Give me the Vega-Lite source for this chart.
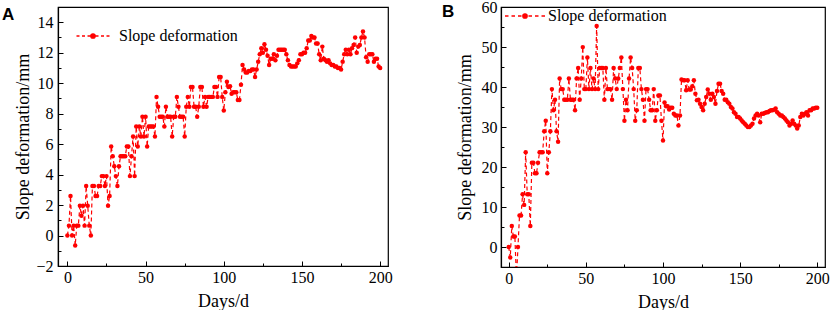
{
  "$schema": "https://vega.github.io/schema/vega-lite/v6.json",
  "padding": {"left": 1, "top": -2, "right": 0, "bottom": 0},
  "spacing": 48,
  "datasets": {
    "a": [{"d":0,"v":0},{"d":1,"v":0.65},{"d":2,"v":2.6},{"d":3,"v":0},{"d":4,"v":0.65},{"d":5,"v":-0.65},{"d":6,"v":0.65},{"d":7,"v":0.65},{"d":8,"v":1.95},{"d":9,"v":1.3},
      {"d":10,"v":1.95},{"d":11,"v":0.65},{"d":12,"v":3.25},{"d":13,"v":1.95},{"d":14,"v":0.65},{"d":15,"v":0},{"d":16,"v":3.25},{"d":17,"v":3.25},{"d":18,"v":2.6},{"d":19,"v":2.6},
      {"d":20,"v":3.25},{"d":21,"v":3.25},{"d":22,"v":3.9},{"d":23,"v":3.9},{"d":24,"v":3.25},{"d":25,"v":3.9},{"d":26,"v":1.95},{"d":27,"v":2.6},{"d":28,"v":5.85},{"d":29,"v":5.2},
      {"d":30,"v":4.55},{"d":31,"v":3.9},{"d":32,"v":3.25},{"d":33,"v":4.55},{"d":34,"v":5.2},{"d":35,"v":5.2},{"d":36,"v":5.2},{"d":37,"v":5.2},{"d":38,"v":5.85},{"d":39,"v":5.85},
      {"d":40,"v":3.9},{"d":41,"v":5.2},{"d":42,"v":6.5},{"d":43,"v":3.9},{"d":44,"v":7.15},{"d":45,"v":5.85},{"d":46,"v":7.15},{"d":47,"v":6.5},{"d":48,"v":7.8},{"d":49,"v":6.5},
      {"d":50,"v":7.8},{"d":51,"v":5.85},{"d":52,"v":7.15},{"d":53,"v":7.15},{"d":54,"v":7.15},{"d":55,"v":7.15},{"d":56,"v":6.5},{"d":57,"v":9.1},{"d":58,"v":8.45},{"d":59,"v":7.8},
      {"d":60,"v":7.8},{"d":61,"v":7.8},{"d":62,"v":7.15},{"d":63,"v":8.45},{"d":64,"v":7.8},{"d":65,"v":7.8},{"d":66,"v":7.8},{"d":67,"v":6.5},{"d":68,"v":7.8},{"d":69,"v":7.8},
      {"d":70,"v":9.1},{"d":71,"v":8.45},{"d":72,"v":7.8},{"d":73,"v":7.8},{"d":74,"v":7.8},{"d":75,"v":6.5},{"d":76,"v":8.45},{"d":77,"v":9.1},{"d":78,"v":8.45},{"d":79,"v":9.75},
      {"d":80,"v":9.75},{"d":81,"v":8.45},{"d":82,"v":8.45},{"d":83,"v":7.8},{"d":84,"v":8.45},{"d":85,"v":9.75},{"d":86,"v":9.75},{"d":87,"v":8.45},{"d":88,"v":9.1},{"d":89,"v":8.45},
      {"d":90,"v":9.1},{"d":91,"v":9.1},{"d":92,"v":9.1},{"d":93,"v":9.1},{"d":94,"v":9.75},{"d":95,"v":9.75},{"d":96,"v":9.1},{"d":97,"v":10.4},{"d":98,"v":10.4},{"d":99,"v":9.1},
      {"d":100,"v":8.2},{"d":101,"v":9.4},{"d":102,"v":10.1},{"d":103,"v":9.75},{"d":104,"v":9.8},{"d":105,"v":9.3},{"d":106,"v":9.4},{"d":107,"v":9.4},{"d":108,"v":9.4},{"d":109,"v":8.9},
      {"d":110,"v":8.9},{"d":111,"v":9.9},{"d":112,"v":11.2},{"d":113,"v":10.9},{"d":114,"v":10.7},{"d":115,"v":10.7},{"d":116,"v":10.8},{"d":117,"v":10.8},{"d":118,"v":10.9},{"d":119,"v":10.9},
      {"d":120,"v":10.4},{"d":121,"v":10.9},{"d":122,"v":11.4},{"d":123,"v":11.9},{"d":124,"v":12.3},{"d":125,"v":12.0},{"d":126,"v":12.55},{"d":127,"v":12.2},{"d":128,"v":11.8},{"d":129,"v":11.2},
      {"d":130,"v":11.6},{"d":131,"v":11.6},{"d":132,"v":11.9},{"d":133,"v":11.5},{"d":134,"v":11.8},{"d":135,"v":12.2},{"d":136,"v":12.2},{"d":137,"v":12.2},{"d":138,"v":12.2},{"d":139,"v":12.2},
      {"d":140,"v":11.9},{"d":141,"v":11.5},{"d":142,"v":11.2},{"d":143,"v":11.1},{"d":144,"v":11.1},{"d":145,"v":11.1},{"d":146,"v":11.1},{"d":147,"v":11.3},{"d":148,"v":11.5},{"d":149,"v":11.9},
      {"d":150,"v":11.9},{"d":151,"v":12.0},{"d":152,"v":12.0},{"d":153,"v":12.3},{"d":154,"v":12.8},{"d":155,"v":12.8},{"d":156,"v":13.1},{"d":157,"v":13.0},{"d":158,"v":13.0},{"d":159,"v":12.6},
      {"d":160,"v":12.6},{"d":161,"v":11.9},{"d":162,"v":11.5},{"d":163,"v":12.4},{"d":164,"v":11.6},{"d":165,"v":11.5},{"d":166,"v":11.4},{"d":167,"v":11.5},{"d":168,"v":11.3},{"d":169,"v":11.2},
      {"d":170,"v":11.2},{"d":171,"v":11.1},{"d":172,"v":11.1},{"d":173,"v":11.0},{"d":174,"v":11.0},{"d":175,"v":10.9},{"d":176,"v":11.4},{"d":177,"v":11.9},{"d":178,"v":12.2},{"d":179,"v":11.9},
      {"d":180,"v":12.2},{"d":181,"v":11.9},{"d":182,"v":12.3},{"d":183,"v":12.5},{"d":184,"v":13.0},{"d":185,"v":12.0},{"d":186,"v":12.4},{"d":187,"v":12.5},{"d":188,"v":13.0},{"d":189,"v":13.4},
      {"d":190,"v":13.0},{"d":191,"v":11.7},{"d":192,"v":11.4},{"d":193,"v":11.9},{"d":194,"v":11.9},{"d":195,"v":11.9},{"d":196,"v":11.4},{"d":197,"v":11.6},{"d":198,"v":11.6},{"d":199,"v":11.1},
      {"d":200,"v":11.0}],
    "b": [{"d":0,"v":0},{"d":1,"v":-2.63},{"d":2,"v":5.26},{"d":3,"v":2.63},{"d":4,"v":2.63},{"d":5,"v":-7.9},{"d":6,"v":0},{"d":7,"v":7.9},{"d":8,"v":7.9},{"d":9,"v":13.16},
      {"d":10,"v":10.53},{"d":11,"v":23.68},{"d":12,"v":13.16},{"d":13,"v":13.16},{"d":14,"v":5.26},{"d":15,"v":21.05},{"d":16,"v":21.05},{"d":17,"v":18.42},{"d":18,"v":18.42},{"d":19,"v":21.05},
      {"d":20,"v":23.68},{"d":21,"v":23.68},{"d":22,"v":23.68},{"d":23,"v":28.95},{"d":24,"v":31.58},{"d":25,"v":18.42},{"d":26,"v":23.68},{"d":27,"v":28.95},{"d":28,"v":39.47},{"d":29,"v":34.21},
      {"d":30,"v":36.84},{"d":31,"v":28.95},{"d":32,"v":26.32},{"d":33,"v":42.1},{"d":34,"v":39.47},{"d":35,"v":39.47},{"d":36,"v":36.84},{"d":37,"v":36.84},{"d":38,"v":36.84},{"d":39,"v":42.1},
      {"d":40,"v":36.84},{"d":41,"v":36.84},{"d":42,"v":36.84},{"d":43,"v":34.21},{"d":44,"v":42.1},{"d":45,"v":44.74},{"d":46,"v":36.84},{"d":47,"v":42.1},{"d":48,"v":49.97},{"d":49,"v":39.47},
      {"d":50,"v":39.47},{"d":51,"v":47.37},{"d":52,"v":39.47},{"d":53,"v":44.74},{"d":54,"v":39.47},{"d":55,"v":42.1},{"d":56,"v":39.47},{"d":57,"v":55.26},{"d":58,"v":39.47},{"d":59,"v":44.74},
      {"d":60,"v":44.74},{"d":61,"v":44.74},{"d":62,"v":36.84},{"d":63,"v":44.74},{"d":64,"v":39.47},{"d":65,"v":39.47},{"d":66,"v":39.47},{"d":67,"v":36.84},{"d":68,"v":44.74},{"d":69,"v":42.1},
      {"d":70,"v":39.47},{"d":71,"v":42.1},{"d":72,"v":44.74},{"d":73,"v":47.37},{"d":74,"v":39.47},{"d":75,"v":31.58},{"d":76,"v":36.84},{"d":77,"v":34.21},{"d":78,"v":42.1},{"d":79,"v":47.37},
      {"d":80,"v":44.74},{"d":81,"v":39.47},{"d":82,"v":31.58},{"d":83,"v":34.21},{"d":84,"v":44.74},{"d":85,"v":44.74},{"d":86,"v":39.47},{"d":87,"v":36.84},{"d":88,"v":31.58},{"d":89,"v":39.47},
      {"d":90,"v":39.47},{"d":91,"v":36.84},{"d":92,"v":34.21},{"d":93,"v":34.21},{"d":94,"v":39.47},{"d":95,"v":31.58},{"d":96,"v":34.21},{"d":97,"v":37.9},{"d":98,"v":37.9},{"d":99,"v":31.58},
      {"d":100,"v":26.6},{"d":101,"v":36.1},{"d":102,"v":35.2},{"d":103,"v":35.2},{"d":104,"v":34.4},{"d":105,"v":34.8},{"d":106,"v":34.8},{"d":107,"v":33.3},{"d":108,"v":32.9},{"d":109,"v":32.9},
      {"d":110,"v":30.4},{"d":111,"v":32.9},{"d":112,"v":41.9},{"d":113,"v":41.7},{"d":114,"v":41.7},{"d":115,"v":39.2},{"d":116,"v":41.7},{"d":117,"v":39.4},{"d":118,"v":39.4},{"d":119,"v":40.2},
      {"d":120,"v":41.7},{"d":121,"v":38.3},{"d":122,"v":36.7},{"d":123,"v":36.8},{"d":124,"v":35.8},{"d":125,"v":35.0},{"d":126,"v":34.2},{"d":127,"v":35.8},{"d":128,"v":37.5},{"d":129,"v":39.4},
      {"d":130,"v":38.3},{"d":131,"v":36.8},{"d":132,"v":38.3},{"d":133,"v":37.5},{"d":134,"v":35.8},{"d":135,"v":39.0},{"d":136,"v":40.8},{"d":137,"v":40.8},{"d":138,"v":39.0},{"d":139,"v":38.3},
      {"d":140,"v":36.8},{"d":141,"v":36.8},{"d":142,"v":36.2},{"d":143,"v":35.8},{"d":144,"v":35.0},{"d":145,"v":34.6},{"d":146,"v":33.7},{"d":147,"v":33.3},{"d":148,"v":32.5},{"d":149,"v":32.5},
      {"d":150,"v":32.1},{"d":151,"v":31.6},{"d":152,"v":31.2},{"d":153,"v":30.8},{"d":154,"v":30.4},{"d":155,"v":30.0},{"d":156,"v":29.97},{"d":157,"v":30.4},{"d":158,"v":30.8},{"d":159,"v":32.1},
      {"d":160,"v":32.9},{"d":161,"v":33.3},{"d":162,"v":32.9},{"d":163,"v":31.2},{"d":164,"v":33.3},{"d":165,"v":33.3},{"d":166,"v":33.5},{"d":167,"v":33.7},{"d":168,"v":33.7},{"d":169,"v":34.0},
      {"d":170,"v":34.2},{"d":171,"v":34.2},{"d":172,"v":34.3},{"d":173,"v":34.6},{"d":174,"v":33.7},{"d":175,"v":33.3},{"d":176,"v":32.9},{"d":177,"v":32.9},{"d":178,"v":32.5},{"d":179,"v":32.1},
      {"d":180,"v":31.6},{"d":181,"v":31.2},{"d":182,"v":30.4},{"d":183,"v":30.8},{"d":184,"v":31.6},{"d":185,"v":30.8},{"d":186,"v":30.4},{"d":187,"v":29.6},{"d":188,"v":30.4},{"d":189,"v":32.5},
      {"d":190,"v":33.3},{"d":191,"v":32.9},{"d":192,"v":33.3},{"d":193,"v":33.7},{"d":194,"v":32.9},{"d":195,"v":34.2},{"d":196,"v":34.2},{"d":197,"v":34.6},{"d":198,"v":34.6},{"d":199,"v":34.8},
      {"d":200,"v":34.8}]
  },
  "hconcat": [
    {
      "width": 330,
      "height": 259,
      "title": {"text": "A", "anchor": "start", "frame": "bounds", "font": "Liberation Sans", "fontSize": 17, "fontWeight": "bold", "color": "black", "offset": 0, "dx": -13, "dy": 17},
      "data": {"name": "a"},
      "encoding": {
        "x": {"field": "d", "type": "quantitative", "scale": {"domain": [-6, 205], "nice": false, "zero": false},
          "axis": {"title": "Days/d", "values": [0,25,50,75,100,125,150,175,200], "labelExpr": "datum.value % 50 === 0 ? datum.label : ''",
            "tickSize": {"condition": {"test": "datum.value % 50 === 0", "value": -5}, "value": -3}, "labelPadding": 8.5, "titlePadding": 4.5, "labelOverlap": false, "labelFlush": false,
            "labelFont": "Liberation Serif", "labelFontSize": 16}},
        "y": {"field": "v", "type": "quantitative", "scale": {"domain": [-2, 15], "nice": false, "zero": false},
          "axis": {"title": "Slope deformation/mm", "values": [-2,-1,0,1,2,3,4,5,6,7,8,9,10,11,12,13,14], "labelExpr": "datum.value % 2 === 0 ? datum.label : ''",
            "tickSize": {"condition": {"test": "datum.value % 2 === 0", "value": -5}, "value": -3}, "labelPadding": 10, "titlePadding": 3, "labelOverlap": false, "labelFlush": false,
            "labelFont": "Liberation Serif", "labelFontSize": 16}},
        "color": {"datum": "Slope deformation", "scale": {"range": ["#ff0000"]},
          "legend": {"title": null, "orient": "none", "legendX": 27, "legendY": 21, "padding": 0,
            "symbolType": "M-3.3,0H-2.7M-2.2,0H-1.6M-1.1,0H-0.5M0.5,0H1.1M1.6,0H2.2M2.7,0H3.3M-0.44,0A0.44,0.44,0,1,1,0.44,0A0.44,0.44,0,1,1,-0.44,0Z",
            "symbolSize": 100, "symbolStrokeWidth": 1.3, "symbolFillColor": "#ff0000", "symbolStrokeColor": "#ff0000", "symbolOpacity": 1,
            "labelFont": "Liberation Serif", "labelFontSize": 16, "labelColor": "black", "labelOffset": 18}}
      },
      "layer": [
        {"mark": {"type": "line", "strokeDash": [4, 3], "strokeWidth": 1.2, "clip": true}},
        {"mark": {"type": "point", "filled": true, "size": 20, "opacity": 1, "clip": true}}
      ]
    },
    {
      "width": 324,
      "height": 260,
      "title": {"text": "B", "anchor": "start", "frame": "bounds", "font": "Liberation Sans", "fontSize": 17, "fontWeight": "bold", "color": "black", "offset": 0, "dx": -14, "dy": 22},
      "data": {"name": "b"},
      "encoding": {
        "x": {"field": "d", "type": "quantitative", "scale": {"domain": [-5, 205], "nice": false, "zero": false},
          "axis": {"title": "Days/d", "values": [0,25,50,75,100,125,150,175,200], "labelExpr": "datum.value % 50 === 0 ? datum.label : ''",
            "tickSize": {"condition": {"test": "datum.value % 50 === 0", "value": -5}, "value": -3}, "labelPadding": 8.5, "titlePadding": 4.5, "labelOverlap": false, "labelFlush": false,
            "labelFont": "Liberation Serif", "labelFontSize": 16}},
        "y": {"field": "v", "type": "quantitative", "scale": {"domain": [-5, 60], "nice": false, "zero": false},
          "axis": {"title": "Slope deformation/mm", "values": [0,5,10,15,20,25,30,35,40,45,50,55,60], "labelExpr": "datum.value % 10 === 0 ? datum.label : ''",
            "tickSize": {"condition": {"test": "datum.value % 10 === 0", "value": -5}, "value": -3}, "labelPadding": 9, "titlePadding": 7, "labelOverlap": false, "labelFlush": false,
            "labelFont": "Liberation Serif", "labelFontSize": 16}},
        "color": {"datum": "Slope deformation", "scale": {"range": ["#ff0000"]},
          "legend": {"title": null, "orient": "none", "legendX": 16, "legendY": 1, "padding": 0,
            "symbolType": "M-4,0H-3.3M-2.7,0H-2M-1.4,0H-0.7M0.7,0H1.4M2,0H2.7M3.3,0H4M-0.44,0A0.44,0.44,0,1,1,0.44,0A0.44,0.44,0,1,1,-0.44,0Z",
            "symbolSize": 100, "symbolStrokeWidth": 1.3, "symbolFillColor": "#ff0000", "symbolStrokeColor": "#ff0000", "symbolOpacity": 1,
            "labelFont": "Liberation Serif", "labelFontSize": 16, "labelColor": "black", "labelOffset": 15}}
      },
      "layer": [
        {"mark": {"type": "line", "strokeDash": [4, 3], "strokeWidth": 1.2, "clip": true}},
        {"mark": {"type": "point", "filled": true, "size": 20, "opacity": 1, "clip": true}}
      ]
    }
  ],
  "resolve": {"scale": {"color": "independent"}, "legend": {"color": "independent"}},
  "config": {
    "view": {"stroke": "black", "strokeWidth": 1.2},
    "axis": {"domainColor": "black", "domainWidth": 1.2, "tickColor": "black", "tickWidth": 1, "grid": false,
      "labelFont": "Liberation Serif", "labelFontSize": 16, "labelColor": "black",
      "titleFont": "Liberation Serif", "titleFontSize": 18, "titleFontWeight": "normal", "titleColor": "black"},
    "legend": {"labelLimit": 300}
  }
}
